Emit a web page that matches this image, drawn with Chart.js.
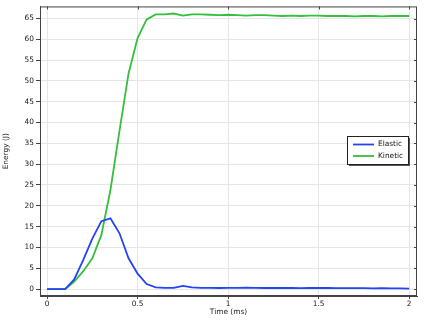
<!DOCTYPE html>
<html>
<head>
<meta charset="utf-8">
<script src="https://cdn.jsdelivr.net/npm/chart.js@4.4.1/dist/chart.umd.min.js"></script>
<style>
  html, body { margin: 0; padding: 0; background: #fff; }
  #wrap { width: 424px; height: 320px; position: relative; }
</style>
</head>
<body>
<div id="wrap"><canvas id="energyChart"></canvas></div>
<script>
const timeMs = [0, 0.05, 0.1, 0.15, 0.2, 0.25, 0.3, 0.35, 0.4, 0.45, 0.5, 0.55, 0.6, 0.65, 0.7, 0.75, 0.8, 0.85, 0.9, 0.95,
  1, 1.05, 1.1, 1.15, 1.2, 1.25, 1.3, 1.35, 1.4, 1.45, 1.5, 1.55, 1.6, 1.65, 1.7, 1.75, 1.8, 1.85, 1.9, 1.95, 2];
const elastic = [0, 0, 0, 2.3, 7, 12.1, 16.3, 17.0, 13.4, 7.4, 3.7, 1.2, 0.4, 0.3, 0.3, 0.75, 0.4, 0.3, 0.3, 0.25,
  0.3, 0.3, 0.35, 0.3, 0.25, 0.3, 0.25, 0.25, 0.2, 0.25, 0.3, 0.25, 0.2, 0.2, 0.2, 0.2, 0.15, 0.2, 0.15, 0.15, 0.1];
const kinetic = [0, 0, 0, 1.8, 4.3, 7.4, 13, 23.8, 38, 51.8, 60.3, 64.8, 66.0, 66.0, 66.2, 65.7, 66.0, 66.0, 65.9, 65.8,
  65.9, 65.8, 65.7, 65.8, 65.8, 65.7, 65.6, 65.7, 65.6, 65.7, 65.7, 65.6, 65.6, 65.6, 65.5, 65.6, 65.6, 65.5, 65.6, 65.6, 65.6];
const xTicks = [0, 0.5, 1, 1.5, 2];
const yTicks = [0, 5, 10, 15, 20, 25, 30, 35, 40, 45, 50, 55, 60, 65];

const FONT = { family: 'DejaVu Sans', size: 7.4 };
const FRAME = '#444';
const GRID = '#e6e6e6';

const toPoints = vals => vals.map((v, i) => ({ x: timeMs[i], y: v }));

// box round the plot, inward ticks on top/right, and the legend with its shadow
const framePlugin = {
  id: 'frame',
  afterDraw(chart) {
    const { ctx, chartArea: a, scales } = chart;
    ctx.save();
    ctx.strokeStyle = FRAME;
    ctx.lineWidth = 1;
    ctx.strokeRect(a.left + 0.5, a.top + 0.5, a.right - a.left - 1, a.bottom - a.top - 1);
    ctx.beginPath();
    xTicks.forEach(t => {
      const px = Math.round(scales.x.getPixelForValue(t)) + 0.5;
      ctx.moveTo(px, a.top); ctx.lineTo(px, a.top + 3);
    });
    yTicks.forEach(t => {
      const py = Math.round(scales.y.getPixelForValue(t)) + 0.5;
      ctx.moveTo(a.right, py); ctx.lineTo(a.right - 3, py);
    });
    ctx.stroke();

    const bx = 347, by = 136, bw = 61, bh = 28;
    ctx.fillStyle = '#555';
    ctx.fillRect(bx + 2, by + 2, bw, bh);
    ctx.fillStyle = '#fff';
    ctx.fillRect(bx, by, bw, bh);
    ctx.strokeStyle = '#222';
    ctx.strokeRect(bx + 0.5, by + 0.5, bw, bh);
    ctx.font = FONT.size + 'px ' + FONT.family;
    ctx.textBaseline = 'middle';
    chart.data.datasets.forEach((ds, i) => {
      const ly = by + 8.5 + i * 11.5;
      ctx.strokeStyle = ds.borderColor;
      ctx.lineWidth = 1.8;
      ctx.beginPath(); ctx.moveTo(bx + 6, ly); ctx.lineTo(bx + 27, ly); ctx.stroke();
      ctx.fillStyle = '#111';
      ctx.fillText(ds.label, bx + 31, ly);
    });
    ctx.restore();
  }
};

new Chart(document.getElementById('energyChart'), {
  type: 'line',
  data: {
    datasets: [
      { label: 'Elastic', data: toPoints(elastic), borderColor: '#2443f5', borderWidth: 1.8, pointRadius: 0, tension: 0 },
      { label: 'Kinetic', data: toPoints(kinetic), borderColor: '#35bf3c', borderWidth: 1.8, pointRadius: 0, tension: 0 }
    ]
  },
  options: {
    responsive: true,
    maintainAspectRatio: false,
    animation: false,
    events: [],
    layout: { padding: { top: 4, right: 7, left: 0, bottom: 0 } },
    plugins: { legend: { display: false }, tooltip: { enabled: false } },
    scales: {
      x: {
        type: 'linear', min: -0.039, max: 2.043,
        afterBuildTicks: s => { s.ticks = xTicks.map(v => ({ value: v })); },
        afterFit: s => { s.height = 24; },
        ticks: { font: FONT, color: '#222', padding: 1, maxRotation: 0, callback: v => String(v) },
        grid: { color: GRID, tickColor: FRAME, tickLength: 3 },
        border: { color: FRAME },
        title: { display: true, text: 'Time (ms)', font: FONT, color: '#222', padding: { top: 0, bottom: 3 } }
      },
      y: {
        type: 'linear', min: -1.67, max: 67.9,
        afterBuildTicks: s => { s.ticks = yTicks.map(v => ({ value: v })); },
        afterFit: s => { s.width = 40; },
        ticks: { font: FONT, color: '#222', padding: 2, callback: v => String(v) },
        grid: { color: GRID, tickColor: FRAME, tickLength: 4 },
        border: { color: FRAME },
        title: { display: true, text: 'Energy (J)', font: FONT, color: '#222', padding: { top: 2, bottom: 0 } }
      }
    }
  },
  plugins: [framePlugin]
});
</script>
</body>
</html>
